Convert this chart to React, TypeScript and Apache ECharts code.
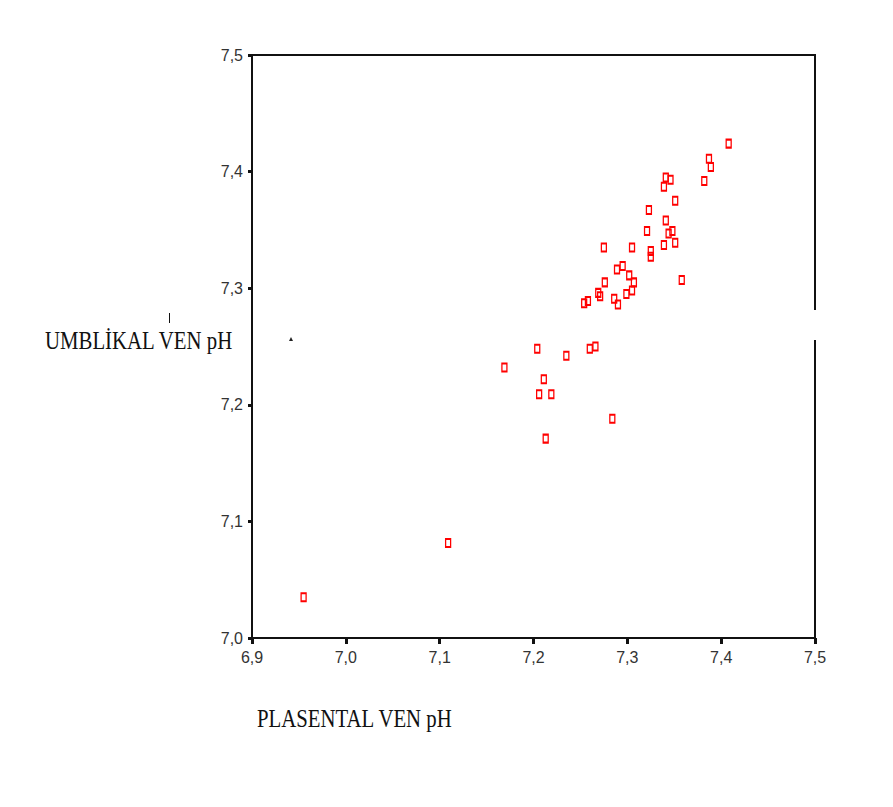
import React, { useEffect, useRef } from "react";
import * as echarts from "echarts";

// Placental vein pH (x) vs umbilical vein pH (y)
const plasentalVenPH: number[] = [
  7.408, 7.387, 7.389, 7.341, 7.346, 7.382, 7.339, 7.351, 7.323, 7.341,
  7.321, 7.344, 7.348, 7.339, 7.351, 7.275, 7.305, 7.325, 7.325, 7.295,
  7.289, 7.302, 7.307, 7.276, 7.358, 7.305, 7.299, 7.269, 7.271, 7.286,
  7.290, 7.258, 7.254, 7.204, 7.235, 7.260, 7.266, 7.169, 7.211, 7.206,
  7.219, 7.284, 7.213, 7.109, 6.955,
];
const umbilikalVenPH: number[] = [
  7.424, 7.411, 7.404, 7.395, 7.393, 7.392, 7.387, 7.375, 7.367, 7.358,
  7.349, 7.347, 7.349, 7.337, 7.339, 7.335, 7.335, 7.332, 7.327, 7.319,
  7.316, 7.311, 7.305, 7.305, 7.307, 7.298, 7.295, 7.296, 7.293, 7.291,
  7.286, 7.289, 7.287, 7.248, 7.242, 7.248, 7.250, 7.232, 7.222, 7.209,
  7.209, 7.188, 7.171, 7.0815, 7.035,
];

const xTicks = { min: 6.9, max: 7.5, step: 0.1 };
const yTicks = { min: 7.0, max: 7.5, step: 0.1 };
const xTitle = "PLASENTAL VEN pH";
const yTitle = "UMBLİKAL VEN pH";

const fmt = (v: number) => v.toFixed(1).replace(".", ",");

export default function App() {
  const ref = useRef<HTMLDivElement>(null);
  useEffect(() => {
    if (!ref.current) return;
    const chart = echarts.init(ref.current, null, { renderer: "svg" });
    const data = plasentalVenPH.map((x, i) => [x, umbilikalVenPH[i]]);
    const labelStyle = {
      fontFamily: "Liberation Sans Narrow, Liberation Sans, Arial",
      fontSize: 16,
      color: "#333",
      formatter: (v: number) => fmt(v),
    };
    chart.setOption({
      animation: false,
      backgroundColor: "#fff",
      grid: {
        left: 252,
        top: 55,
        width: 563,
        height: 583,
        show: true,
        borderColor: "#111",
        borderWidth: 2,
        backgroundColor: "transparent",
      },
      xAxis: {
        type: "value",
        min: xTicks.min,
        max: xTicks.max,
        interval: xTicks.step,
        splitLine: { show: false },
        axisLine: { show: true, lineStyle: { color: "#111", width: 2 } },
        axisTick: { show: true, length: 6, lineStyle: { color: "#111", width: 3 } },
        axisLabel: { ...labelStyle, margin: 11 },
      },
      yAxis: {
        type: "value",
        min: yTicks.min,
        max: yTicks.max,
        interval: yTicks.step,
        splitLine: { show: false },
        axisLine: { show: true, lineStyle: { color: "#111", width: 2 } },
        axisTick: { show: true, length: 4, lineStyle: { color: "#111", width: 3 } },
        axisLabel: { ...labelStyle, margin: 9 },
      },
      series: [
        {
          type: "scatter",
          data,
          symbol: "rect",
          symbolSize: [5, 8],
          itemStyle: {
            color: "transparent",
            borderColor: "#ff0000",
            borderWidth: 1.6,
            opacity: 1,
          },
        },
      ],
      graphic: [
        {
          type: "text",
          x: 45,
          y: 341,
          scaleY: 1.2,
          style: {
            text: yTitle,
            fontFamily: "Liberation Serif, Times New Roman, serif",
            fontSize: 20.8,
            fill: "#111",
            verticalAlign: "middle",
          },
        },
        {
          type: "text",
          x: 257,
          y: 719,
          scaleY: 1.2,
          style: {
            text: xTitle,
            fontFamily: "Liberation Serif, Times New Roman, serif",
            fontSize: 20.8,
            fill: "#111",
            verticalAlign: "middle",
          },
        },
        {
          type: "rect",
          shape: { x: 812, y: 310, width: 6, height: 30 },
          style: { fill: "#fff" },
        },
        {
          type: "line",
          shape: { x1: 169.5, y1: 313, x2: 169.5, y2: 323 },
          style: { stroke: "#111", lineWidth: 1 },
        },
        {
          type: "polygon",
          shape: { points: [[289, 341], [293, 341], [291, 337]] },
          style: { fill: "#222" },
        },
      ],
    });
    return () => chart.dispose();
  }, []);
  return (
    <div
      ref={ref}
      style={{ position: "fixed", left: 0, top: 0, width: 893, height: 807 }}
    />
  );
}
